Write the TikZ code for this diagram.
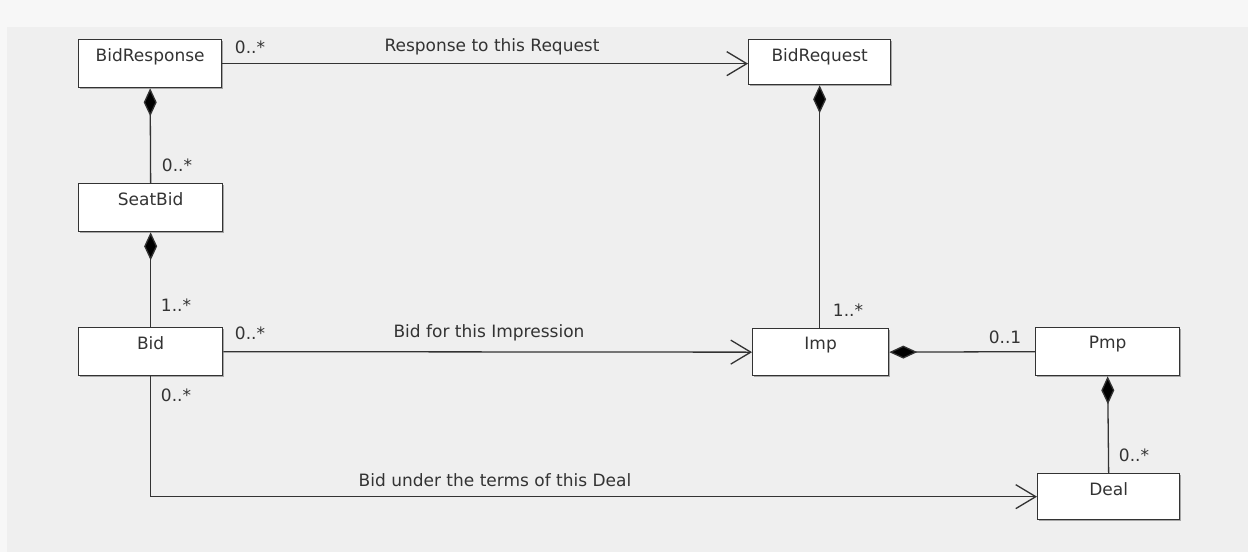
\documentclass[tikz,border=0pt]{standalone}
\usepackage{fontspec}
\setmainfont{DejaVu Sans}
\usetikzlibrary{arrows.meta,shadows}
\definecolor{bgouter}{HTML}{F7F7F7}
\definecolor{panel}{HTML}{EFEFEF}
\definecolor{ink}{HTML}{333333}
\tikzset{
  cls/.style={draw=ink, line width=1.3pt, fill=white, anchor=north west, inner sep=0pt,
    drop shadow={shadow xshift=1.5pt, shadow yshift=-1.5pt, fill=black, opacity=0.3}},
  clsname/.style={anchor=north, inner sep=0pt, yshift=-9pt, font=\fontsize{17}{20}\selectfont, text=ink},
  conn/.style={draw=ink, line width=1.3pt},
  comp/.style={conn, {Diamond[length=28pt,width=13pt,fill=black]}-},
  nav/.style={conn, -{Straight Barb[length=20pt,width=24pt]}},
  mult/.style={font=\fontsize{17}{20}\selectfont, text=ink, inner sep=0pt},
}
\begin{document}
\begin{tikzpicture}[x=1pt,y=-1pt]
\useasboundingbox (0,0) rectangle (1248,552);
\fill[bgouter] (0,0) rectangle (1248,552);
\fill[panel] (7,27) rectangle (1248,552);

\node[cls, minimum width=143pt, minimum height=48pt, label={[clsname]north:BidResponse}] (bidresp) at (78,39) {};
\node[cls, minimum width=144pt, minimum height=48pt, label={[clsname]north:SeatBid}] (seatbid) at (78,183) {};
\node[cls, minimum width=144pt, minimum height=48pt, label={[clsname]north:Bid}] (bid) at (78,327) {};
\node[cls, minimum width=142pt, minimum height=45pt, label={[clsname]north:BidRequest}] (bidreq) at (748,39) {};
\node[cls, minimum width=136pt, minimum height=47pt, label={[clsname]north:Imp}] (imp) at (752,328) {};
\node[cls, minimum width=144pt, minimum height=48pt, label={[clsname]north:Pmp}] (pmp) at (1035,327) {};
\node[cls, minimum width=142pt, minimum height=46pt, label={[clsname]north:Deal}] (deal) at (1037,473) {};

\draw[nav] (bidresp.east) -- (bidresp.east -| bidreq.west);
\draw[comp] (bidresp.south) -- (seatbid.north);
\draw[comp] (seatbid.south) -- (bid.north);
\draw[nav] (bid.east) -- (imp.west);
\coordinate (corner) at (bid.south |- deal.west);
\draw[nav] (bid.south) -- (corner) -- (deal.west);
\draw[comp] (bidreq.south) -- (bidreq.south |- imp.north);
\draw[comp] (imp.east) -- (pmp.west);
\draw[comp] (pmp.south) -- (deal.north);

\node[mult] (m1) at (250,47) {0..*};
\node[mult] (l1) at (492,47) {Response to this Request};
\node[mult] (m2) at (177,165) {0..*};
\node[mult] (m3) at (176,305) {1..*};
\node[mult] (m4) at (250,333) {0..*};
\node[mult] (l2) at (489,333) {Bid for this Impression};
\node[mult] (m5) at (176,395) {0..*};
\node[mult] (l3) at (495,480) {Bid under the terms of this Deal};
\node[mult] (m6) at (848,310) {1..*};
\node[mult] (m7) at (1005,337) {0..1};
\node[mult] (m8) at (1134,455) {0..*};
\end{tikzpicture}
\end{document}
